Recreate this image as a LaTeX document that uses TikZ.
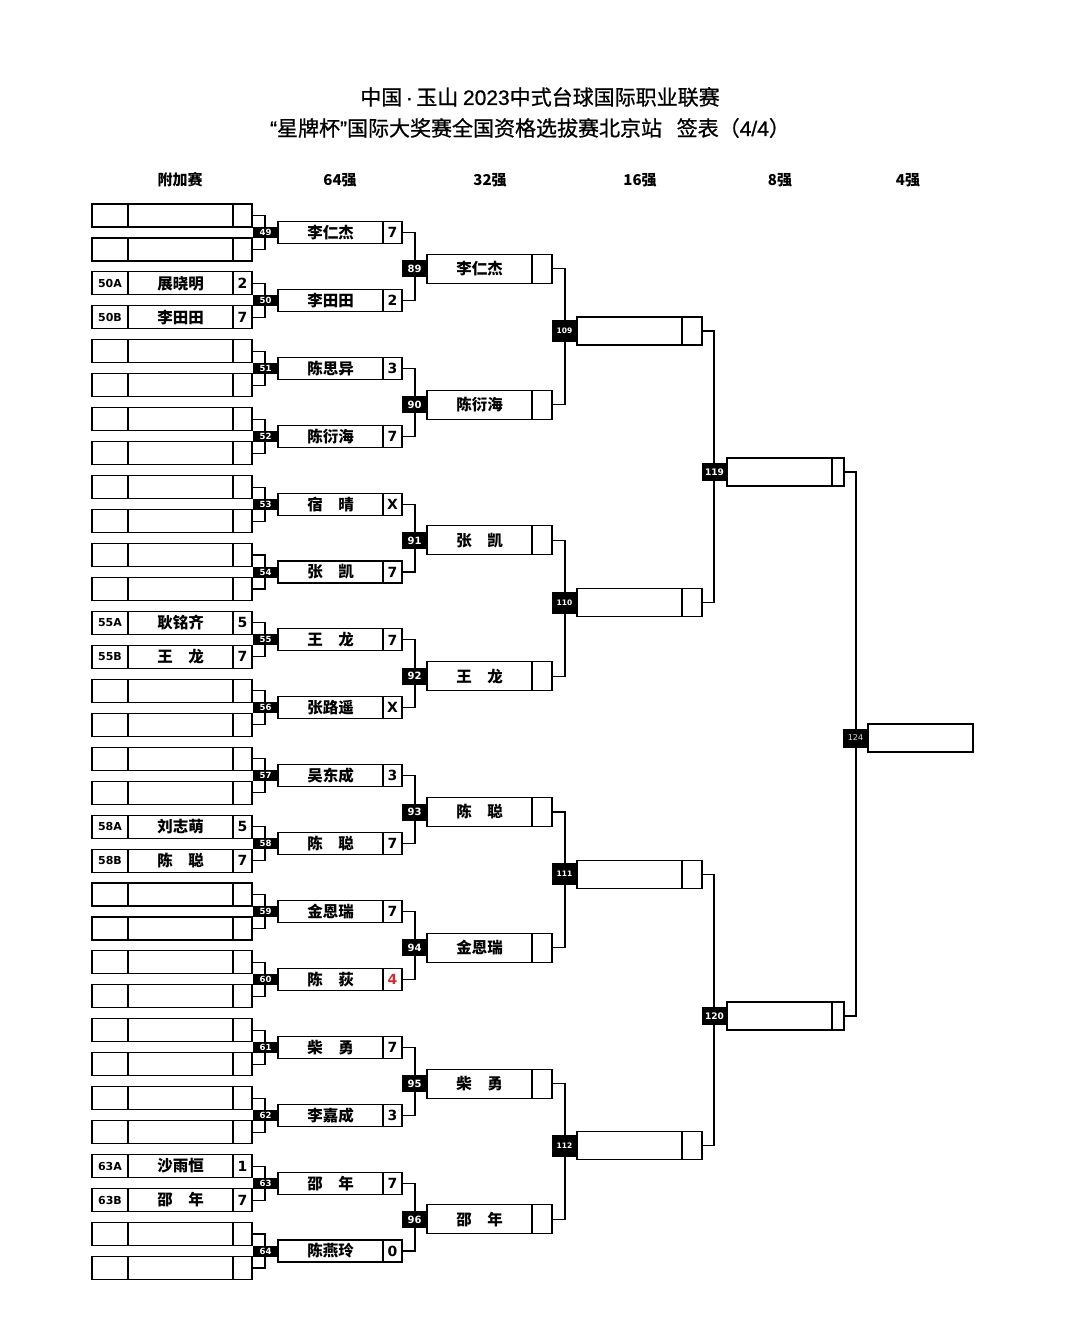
\documentclass[tikz,border=0pt]{standalone}
\usepackage{fontspec}
\setmainfont{Noto Sans CJK SC}
\newfontfamily\dv{DejaVu Sans}
\newfontfamily\tcjk{Noto Sans CJK SC}[FakeBold=0.8]
\newfontfamily\tlat{Liberation Sans}[FakeBold=0.8]
\definecolor{scorered}{RGB}{205,45,55}
\begin{document}
\begin{tikzpicture}[x=1pt,y=-1pt,
  cellbase/.style={draw, line width=1.1pt, inner sep=0pt, outer sep=0pt, anchor=west},
  codecell/.style={cellbase, minimum width=36, minimum height=23, font=\dv\bfseries\fontsize{11}{11}\selectfont},
  namecell/.style={cellbase, minimum width=105, minimum height=#1, font=\bfseries\fontsize{15.5}{15.5}\selectfont},
  scorecell/.style={cellbase, minimum width=19, minimum height=#1, font=\dv\bfseries\fontsize{14}{14}\selectfont},
  numlab/.style={fill=black, text=white, inner sep=0pt, outer sep=0pt, anchor=east, minimum width=25, minimum height=#1},
  conn/.style={line width=1.1pt},
  head/.style={font=\bfseries\fontsize{15}{15}\selectfont},
  title/.style={font=\tcjk\fontsize{21}{21}\selectfont}
]
\useasboundingbox[fill=white] (0,0) rectangle (1080,1317);

% titles and headers
\node[title] (t1) at (540,97) {中国{\tlat\,·\,}玉山 {\tlat 2023}中式台球国际职业联赛};
\node[title] (t2) at (530,128) {{\tlat “}星牌杯{\tlat ”}国际大奖赛全国资格选拔赛北京站\hspace{0.7em}签表（{\tlat 4/4}）};
\node[head] (h0) at (180,180) {附加赛};
\node[head] (h1) at (340,180) {64强};
\node[head] (h2) at (490,180) {32强};
\node[head] (h3) at (640,180) {16强};
\node[head] (h4) at (780,180) {8强};
\node[head] (h5) at (908,180) {4强};

% play-in (附加赛)
\foreach \i/\ca/\na/\sa/\cb/\nb/\sb in {
  0/{}/{}/{}/{}/{}/{},
  1/50A/展晓明/2/50B/李田田/7,
  2/{}/{}/{}/{}/{}/{},
  3/{}/{}/{}/{}/{}/{},
  4/{}/{}/{}/{}/{}/{},
  5/{}/{}/{}/{}/{}/{},
  6/55A/耿铭齐/5/55B/王　龙/7,
  7/{}/{}/{}/{}/{}/{},
  8/{}/{}/{}/{}/{}/{},
  9/58A/刘志萌/5/58B/陈　聪/7,
  10/{}/{}/{}/{}/{}/{},
  11/{}/{}/{}/{}/{}/{},
  12/{}/{}/{}/{}/{}/{},
  13/{}/{}/{}/{}/{}/{},
  14/63A/沙雨恒/1/63B/邵　年/7,
  15/{}/{}/{}/{}/{}/{}} {
  \pgfmathsetmacro\ya{215.5+67.9*\i}
  \pgfmathsetmacro\yb{215.5+67.9*\i+33.95}
  \node[codecell] (pca\i) at (92,\ya) {\ca};
  \node[namecell=23] (pna\i) at (pca\i.east) {\na};
  \node[scorecell=23] (psa\i) at (pna\i.east) {\sa};
  \node[codecell] (pcb\i) at (92,\yb) {\cb};
  \node[namecell=23] (pnb\i) at (pcb\i.east) {\nb};
  \node[scorecell=23] (psb\i) at (pnb\i.east) {\sb};
  \draw[conn] (psa\i.east) -- ++(13,0) |- (psb\i.east);
}

% 64强
\foreach \i/\nm/\sc in {0/李仁杰/7, 1/李田田/2, 2/陈思异/3, 3/陈衍海/7,
  4/宿　晴/X, 5/张　凯/7, 6/王　龙/7, 7/张路遥/X,
  8/吴东成/3, 9/陈　聪/7, 10/金恩瑞/7, 11/陈　荻/{\color{scorered}4},
  12/柴　勇/7, 13/李嘉成/3, 14/邵　年/7, 15/陈燕玲/0} {
  \pgfmathsetmacro\y{232.5+67.9*\i}
  \node[namecell=22] (rn\i) at (278,\y) {\nm};
  \node[scorecell=22] (rs\i) at (rn\i.east) {\sc};
}
\foreach \i in {0,2,...,14} {
  \pgfmathtruncatemacro\j{\i+1}
  \draw[conn] (rs\i.east) -- ++(13,0) |- (rs\j.east);
}

% 32强
\foreach \i/\nm in {0/李仁杰, 1/陈衍海, 2/张　凯, 3/王　龙, 4/陈　聪, 5/金恩瑞, 6/柴　勇, 7/邵　年} {
  \pgfmathsetmacro\y{268.8+135.8*\i}
  \node[namecell=29] (qn\i) at (427,\y) {\nm};
  \node[scorecell=29, minimum width=20] (qs\i) at (qn\i.east) {};
}
\foreach \i in {0,2,4,6} {
  \pgfmathtruncatemacro\j{\i+1}
  \draw[conn] (qs\i.east) -- ++(13,0) |- (qs\j.east);
}

% 16强
\foreach \i in {0,1,2,3} {
  \pgfmathsetmacro\y{331+271.6*\i}
  \node[namecell=28] (sn\i) at (577,\y) {};
  \node[scorecell=28, minimum width=20] (ss\i) at (sn\i.east) {};
}
\draw[conn] (ss0.east) -- ++(12,0) |- (ss1.east);
\draw[conn] (ss2.east) -- ++(12,0) |- (ss3.east);

% 8强
\foreach \i/\y in {0/472, 1/1016} {
  \node[namecell=28] (en\i) at (727,\y) {};
  \node[scorecell=28, minimum width=12] (es\i) at (en\i.east) {};
}
\draw[conn] (es0.east) -- ++(12,0) |- (es1.east);

% 4强
\node[namecell=28] (fn0) at (868,738) {};

% match-number labels, on top of connectors
\foreach \i in {0,...,15} {\pgfmathtruncatemacro\num{49+\i}
  \node[numlab=11, font=\dv\bfseries\fontsize{8.5}{8.5}\selectfont] (rl\i) at (rn\i.west) {\num};}
\foreach \i in {0,...,7} {\pgfmathtruncatemacro\num{89+\i}
  \node[numlab=17, font=\dv\bfseries\fontsize{10}{10}\selectfont] (ql\i) at (qn\i.west) {\num};}
\foreach \i in {0,...,3} {\pgfmathtruncatemacro\num{109+\i}
  \node[numlab=22, font=\dv\bfseries\fontsize{7.5}{7.5}\selectfont] (sl\i) at (sn\i.west) {\num};}
\node[numlab=18, font=\dv\bfseries\fontsize{9}{9}\selectfont] (el0) at (en0.west) {119};
\node[numlab=18, font=\dv\bfseries\fontsize{9}{9}\selectfont] (el1) at (en1.west) {120};
\node[numlab=19, text=white!85!black, font=\dv\fontsize{8}{8}\selectfont] (fl0) at (fn0.west) {124};
\end{tikzpicture}
\end{document}
